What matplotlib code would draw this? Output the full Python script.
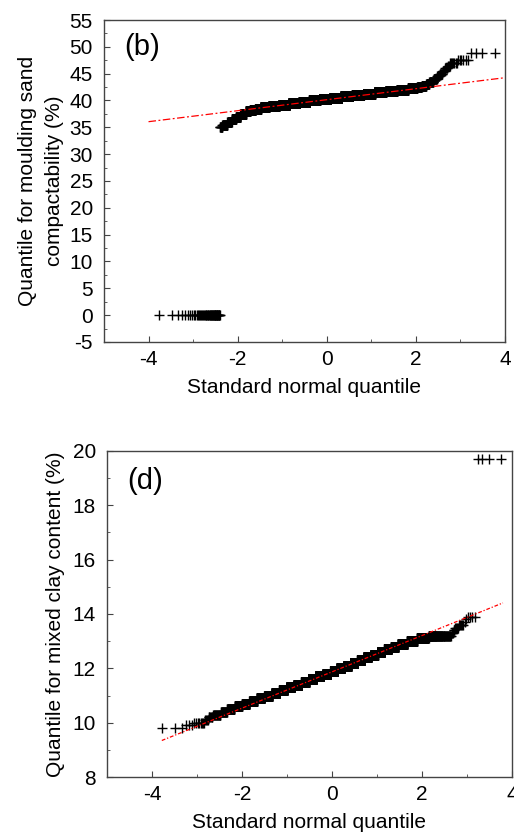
import numpy as np
import matplotlib
matplotlib.use("Agg")
import matplotlib.pyplot as plt
from matplotlib.ticker import MultipleLocator
from statistics import NormalDist

plt.rcParams['font.family'] = ['Liberation Sans', 'DejaVu Sans']
plt.rcParams['axes.unicode_minus'] = False

# (b) moulding sand compactability: sorted sample as value levels and counts
sand_values = [0.0, 35.0, 35.5, 36.0, 36.5, 37.0, 37.5, 38.0, 38.25, 38.5, 38.75,
               39.0, 39.25, 39.5, 39.75, 40.0, 40.25, 40.5, 40.75, 41.0, 41.25,
               41.5, 41.75, 42.0, 42.25, 42.5, 42.75, 43.0, 43.5, 44.0, 44.5,
               45.0, 45.5, 46.0, 46.5, 47.0, 47.5, 48.9]
sand_counts = [49, 8, 20, 22, 26, 33, 50, 49, 70, 88, 168,
               265, 345, 419, 480, 526, 561, 585, 540, 468, 381,
               291, 210, 142, 77, 27, 23, 13, 14, 10, 6,
               6, 4, 4, 3, 7, 6, 4]
sand_fit = (40.15, 1.025)      # intercept, slope of reference line
sand_fit_span = [-4.0, 4.0]

# (d) mixed clay content
clay_values = [9.8, 9.9, 10.0, 10.1, 10.2, 10.3, 10.4, 10.5, 10.6, 10.7, 10.8,
               10.9, 11.0, 11.1, 11.2, 11.3, 11.4, 11.5, 11.6, 11.7, 11.8,
               11.9, 12.0, 12.1, 12.2, 12.3, 12.4, 12.5, 12.6, 12.7, 12.8,
               12.9, 13.0, 13.1, 13.2, 13.3, 13.4, 13.5, 13.6, 13.7, 13.8,
               13.9, 19.7]
clay_counts = [3, 3, 8, 4, 6, 16, 19, 32, 46, 63, 87,
               114, 147, 182, 222, 252, 291, 322, 351, 371, 384,
               361, 352, 336, 316, 290, 263, 229, 200, 168, 137,
               142, 107, 81, 71, 3, 2, 4, 5, 1, 1,
               4, 4]
clay_fit = (11.87, 0.668)
clay_fit_span = [-3.78, 3.8]

FS = 15


def qq_points(values, counts):
    sample = np.repeat(values, counts)
    n = len(sample)
    nd = NormalDist()
    theo = np.array([nd.inv_cdf((i - 0.5) / n) for i in range(1, n + 1)])
    return theo, sample


def style_axes(ax):
    for s in ax.spines.values():
        s.set_color('#444444')
        s.set_linewidth(1.0)
    ax.tick_params(which='both', direction='in', top=False, right=False,
                   labelsize=FS, colors='#444444', labelcolor='black')
    ax.tick_params(axis='y', which='major', pad=8)
    ax.tick_params(axis='x', which='major', pad=6)
    ax.tick_params(which='major', length=4)
    ax.tick_params(which='minor', length=2.5)
    ax.set_xlim(-5, 4)
    ax.xaxis.set_minor_locator(MultipleLocator(1))
    ax.set_xticks([-4, -2, 0, 2, 4])


fig = plt.figure(figsize=(5.14, 8.34), dpi=100)

# top panel
ax1 = fig.add_axes([0.2023, 0.590, 0.7802, 0.386])
x1, y1 = qq_points(sand_values, sand_counts)
ax1.plot(x1, y1, '+', color='black', ms=6.5, mew=1.0)
fx = np.array(sand_fit_span)
ax1.plot(fx, sand_fit[0] + sand_fit[1] * fx, color='red', lw=0.9,
         linestyle=(0, (6, 2, 1.5, 2)))
style_axes(ax1)
ax1.set_ylim(-5, 55)
ax1.yaxis.set_major_locator(MultipleLocator(5))
ax1.yaxis.set_minor_locator(MultipleLocator(2.5))
ax1.set_xlabel('Standard normal quantile', fontsize=FS, labelpad=6)
ax1.set_ylabel('Quantile for moulding sand\ncompactability (%)', fontsize=FS,
               labelpad=4, linespacing=1.55)
ax1.text(0.05, 0.96, '(b)', transform=ax1.transAxes, fontsize=21, va='top')

# bottom panel
ax2 = fig.add_axes([0.208, 0.0683, 0.788, 0.391])
x2, y2 = qq_points(clay_values, clay_counts)
ax2.plot(x2, y2, '+', color='black', ms=6.5, mew=1.0)
fx = np.array(clay_fit_span)
ax2.plot(fx, clay_fit[0] + clay_fit[1] * fx, color='red', lw=0.9,
         linestyle=(0, (3, 1.5, 1, 1.5)))
style_axes(ax2)
ax2.set_ylim(8, 20)
ax2.yaxis.set_major_locator(MultipleLocator(2))
ax2.yaxis.set_minor_locator(MultipleLocator(1))
ax2.set_xlabel('Standard normal quantile', fontsize=FS, labelpad=6)
ax2.set_ylabel('Quantile for mixed clay content (%)', fontsize=FS, labelpad=5)
ax2.text(0.05, 0.95, '(d)', transform=ax2.transAxes, fontsize=21, va='top')

fig.savefig('out.png', dpi=100)
